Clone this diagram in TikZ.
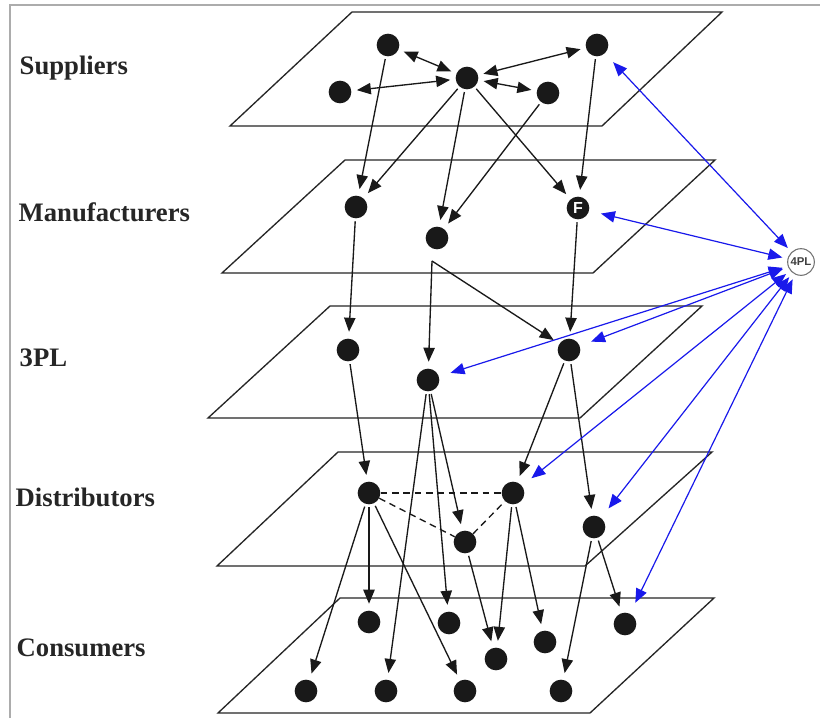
\documentclass[tikz,border=0pt]{standalone}
\usepackage{fontspec}
\setmainfont{Liberation Serif}
\newfontfamily\tagsans{Liberation Sans}
\usetikzlibrary{arrows.meta}
\definecolor{linkblue}{RGB}{25,25,235}
\begin{document}
\begin{tikzpicture}[x=0.75pt,y=-0.75pt,
  plane/.style={draw=black!85, line width=1pt, line join=miter},
  dot/.style={circle, fill=black!90, minimum size=17pt, inner sep=0pt},
  layer/.style={anchor=base west, font=\bfseries\fontsize{20}{24}\selectfont, text=black!85},
  tip/.tip={Triangle[length=10.5pt,width=8.5pt]},
  flow/.style={draw=black!90, line width=1pt, -tip, shorten >=5pt, shorten <=2pt},
  twoway/.style={draw=black!90, line width=1pt, tip-tip, shorten >=4pt, shorten <=4pt},
  peer/.style={draw=black!90, line width=1pt, dash pattern=on 5pt off 3.5pt},
  link/.style={draw=linkblue, line width=0.9pt, tip-tip, shorten <=9pt, shorten >=4pt},
]
\useasboundingbox (0,0) rectangle (820,718);
\fill[white] (0,0) rectangle (820,718);
% frame
\draw[gray!65, line width=1.5pt] (10,718) -- (10,5) -- (820,5);

% layer planes
\draw[plane] (352,12) -- (722,12) -- (602,126) -- (230,126) -- cycle;
\draw[plane] (345,160) -- (715,160) -- (593,273) -- (222,273) -- cycle;
\draw[plane] (330,306) -- (702,306) -- (580,418) -- (208,418) -- cycle;
\draw[plane] (338,452) -- (712,452) -- (585,566) -- (217,566) -- cycle;
\draw[plane] (340,598) -- (714,598) -- (590,713) -- (218,713) -- cycle;

% layer names
\node[layer] (tsup) at (15,74) {Suppliers};
\node[layer] (tman) at (14,221) {Manufacturers};
\node[layer] (t3pl) at (15,366) {3PL};
\node[layer] (tdis) at (11,506) {Distributors};
\node[layer] (tcon) at (12,656) {Consumers};

% suppliers
\node[dot] (S1) at (388,45) {};
\node[dot] (S2) at (597,45) {};
\node[dot] (S3) at (467,78) {};
\node[dot] (S4) at (340,92) {};
\node[dot] (S5) at (548,93) {};
% manufacturers
\node[dot] (M1) at (356,207) {};
\node[dot] (M2) at (437,238) {};
\node[dot, text=white, font=\tagsans\bfseries\fontsize{12}{12}\selectfont] (MF) at (578,208) {F};
\coordinate (m2fork) at (432,261);
% 3PL
\node[dot] (P1) at (348,350) {};
\node[dot] (P2) at (428,380) {};
\node[dot] (P3) at (569,350) {};
% distributors
\node[dot] (D1) at (369,493) {};
\node[dot] (D2) at (513,493) {};
\node[dot] (D3) at (594,527) {};
\node[dot] (D4) at (465,542) {};
% consumers
\node[dot] (C1) at (369,622) {};
\node[dot] (C2) at (449,623) {};
\node[dot] (C3) at (545,642) {};
\node[dot] (C4) at (625,624) {};
\node[dot] (C5) at (496,659) {};
\node[dot] (C6) at (306,691) {};
\node[dot] (C7) at (386,691) {};
\node[dot] (C8) at (465,691) {};
\node[dot] (C9) at (561,691) {};
% fourth-party logistics provider
\node[circle, draw=black!55, fill=white, line width=0.8pt, minimum size=20pt, inner sep=0pt,
      font=\tagsans\bfseries\fontsize{8.5}{8.5}\selectfont, text=black!75] (fpl) at (801,262) {4PL};

% links among suppliers
\draw[twoway] (S3) -- (S1);
\draw[twoway] (S3) -- (S2);
\draw[twoway] (S3) -- (S4);
\draw[twoway] (S3) -- (S5);

% suppliers to manufacturers
\draw[flow] (S1) -- (M1);
\draw[flow] (S3) -- (M1);
\draw[flow] (S3) -- (M2);
\draw[flow] (S5) -- (M2);
\draw[flow] (S3) -- (MF);
\draw[flow] (S2) -- (MF);

% manufacturers to 3PL
\draw[flow] (M1) -- (P1);
\draw[flow, shorten <=0pt] (m2fork) -- (P2);
\draw[flow, shorten <=0pt] (m2fork) -- (P3);
\draw[flow] (MF) -- (P3);

% 3PL to distributors and consumers
\draw[flow] (P1) -- (D1);
\draw[flow] (P2) -- (D4);
\draw[flow] (P2) -- (C7);
\draw[flow] (P2) -- (C2);
\draw[flow] (P3) -- (D2);
\draw[flow] (P3) -- (D3);

% distributor cooperation
\draw[peer] (D1) -- (D2);
\draw[peer] (D1) -- (D4);
\draw[peer] (D4) -- (D2);

% distributors to consumers
\draw[flow] (D1) -- (C1);
\draw[flow] (D1) -- (C6);
\draw[flow] (D1) -- (C8);
\draw[flow] (D4) -- (C5);
\draw[flow] (D2) -- (C5);
\draw[flow] (D2) -- (C3);
\draw[flow] (D3) -- (C9);
\draw[flow] (D3) -- (C4);

% 4PL coordination
\draw[link] (S2) -- (fpl);
\draw[link] (MF) -- (fpl);
\draw[link] (P2) -- (fpl);
\draw[link] (P3) -- (fpl);
\draw[link] (D2) -- (fpl);
\draw[link] (D3) -- (fpl);
\draw[link] (C4) -- (fpl);
\end{tikzpicture}
\end{document}
